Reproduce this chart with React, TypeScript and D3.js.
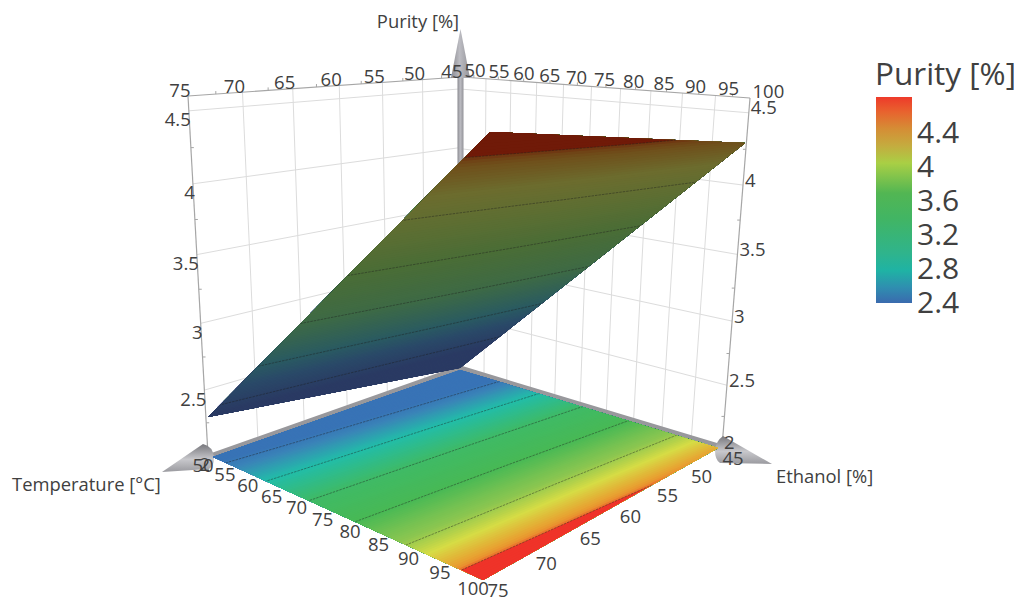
import React from "react";
import * as d3 from "d3";

const width = 1014;
const height = 597;

// axis ticks
const temperatureTicks = [50, 55, 60, 65, 70, 75, 80, 85, 90, 95, 100];
const ethanolTicks = [45, 50, 55, 60, 65, 70, 75];
const purityTicks = [2, 2.5, 3, 3.5, 4, 4.5];
const legendTicks = [2.4, 2.8, 3.2, 3.6, 4, 4.4];
const contourLevels = [2.4, 2.8, 3.2, 3.6, 4, 4.4];

// purity, one row per ethanol level, one value per temperature tick
const surfaceEthanol = [45, 60, 75];
const purityEthanol45 = [2.0, 2.23, 2.46, 2.7, 2.93, 3.16, 3.39, 3.62, 3.86, 4.09, 4.32];
const purityEthanol60 = [2.13, 2.36, 2.59, 2.83, 3.06, 3.29, 3.52, 3.75, 3.98, 4.21, 4.44];
const purityEthanol75 = [2.27, 2.49, 2.72, 2.95, 3.18, 3.41, 3.64, 3.87, 4.09, 4.32, 4.55];

// colour map of the floor
const mapValues = [2.35, 2.5, 2.8, 3.2, 3.6, 3.95, 4.15, 4.34, 4.385, 4.41, 4.9];
const mapColors = ["#3873b6", "#3a85b8", "#22bda8", "#3fba66", "#48b955", "#8cc650", "#d6dc45", "#e8a131", "#ea8a2e", "#ef3329", "#ef3329"];

// colour map of the shaded surface
const shadeValues = [2.3, 2.6, 2.8, 3.2, 3.6, 3.95, 4.15, 4.34, 4.385, 4.41, 4.9];
const shadeColors = ["#2a3a63", "#2a4a68", "#2a5a62", "#3e6a45", "#4a6d36", "#5f6e32", "#6c6c2e", "#6f4f1b", "#6f3f14", "#701a08", "#701a08"];

// colour bar
const legendValues = [2.42, 2.6, 2.8, 3.0, 3.4, 3.7, 4.05, 4.25, 4.45, 4.65, 4.82];
const legendColors = ["#3a6aae", "#2f8eb0", "#1fb3a4", "#2fb48c", "#41b564", "#52b653", "#a9cf45", "#c4ac3f", "#d58d35", "#e8622e", "#ee3a2a"];

type Pt = [number, number];

function plane(corners: Pt[], uDomain: number[], vDomain: number[]) {
  const [p0, p1, p2, p3] = corners;
  const dx1 = p1[0] - p2[0], dx2 = p3[0] - p2[0], sx = p0[0] - p1[0] + p2[0] - p3[0];
  const dy1 = p1[1] - p2[1], dy2 = p3[1] - p2[1], sy = p0[1] - p1[1] + p2[1] - p3[1];
  const den = dx1 * dy2 - dx2 * dy1;
  const g = (sx * dy2 - dx2 * sy) / den;
  const h = (dx1 * sy - sx * dy1) / den;
  const a = p1[0] - p0[0] + g * p1[0], b = p3[0] - p0[0] + h * p3[0];
  const d = p1[1] - p0[1] + g * p1[1], e = p3[1] - p0[1] + h * p3[1];
  const us = d3.scaleLinear().domain(uDomain).range([0, 1]);
  const vs = d3.scaleLinear().domain(vDomain).range([0, 1]);
  return (u: number, v: number): Pt => {
    const s = us(u), t = vs(v);
    const w = g * s + h * t + 1;
    return [(a * s + b * t + p0[0]) / w, (d * s + e * t + p0[1]) / w];
  };
}

const tDomain = [50, 100];
const eDomain = [45, 75];
const zDomain = [2, 4.6];

const leftWall = plane([[460, 369], [208, 455], [188, 96], [460, 77]], eDomain, zDomain);
const rightWall = plane([[462, 369], [722, 447], [750, 98], [462, 77]], tDomain, zDomain);
const floorPlane = plane([[460, 370], [718, 448], [483, 580], [213, 457]], tDomain, eDomain);
const surfacePlane = plane([[460, 368], [745, 143], [490, 132], [208, 417]], tDomain, eDomain);

const mapColor = d3.scaleLinear<string>().domain(mapValues).range(mapColors).clamp(true);
const shadeColor = d3.scaleLinear<string>().domain(shadeValues).range(shadeColors).clamp(true);

// resample the read values on a fine grid for d3.contours
const nx = 101;
const ny = 61;
const gridT = d3.scaleLinear().domain([0.5, nx - 0.5]).range(tDomain);
const gridE = d3.scaleLinear().domain([0.5, ny - 0.5]).range(eDomain);
const rowScales = [purityEthanol45, purityEthanol60, purityEthanol75].map((r) =>
  d3.scaleLinear().domain(temperatureTicks).range(r)
);
const grid: number[] = [];
for (let j = 0; j < ny; j++) {
  for (let i = 0; i < nx; i++) {
    const T = gridT(i + 0.5);
    const E = gridE(j + 0.5);
    grid.push(d3.scaleLinear().domain(surfaceEthanol).range(rowScales.map((s) => s(T)))(E));
  }
}
const contourGen = d3.contours().size([nx, ny]).smooth(true);
const bandStep = 0.02;
const bandLevels = d3.range(1.9, 4.7, bandStep);
const bands = bandLevels.map((t) => contourGen.contour(grid, t));
const lines = contourLevels.map((t) => contourGen.contour(grid, t));

const planePath = (proj: (u: number, v: number) => Pt) =>
  d3.geoPath(
    d3.geoTransform({
      point(x: number, y: number) {
        const p = proj(gridT(x), gridE(y));
        this.stream.point(p[0], p[1]);
      },
    })
  );

const quad = (proj: (u: number, v: number) => Pt) =>
  [proj(tDomain[0], eDomain[0]), proj(tDomain[1], eDomain[0]), proj(tDomain[1], eDomain[1]), proj(tDomain[0], eDomain[1])]
    .map((p) => p.join(","))
    .join(" ");

const mid = (ticks: number[]) => ticks.slice(1).map((t, i) => (t + ticks[i]) / 2);

const legendY = d3.scaleLinear().domain([2.4, 4.4]).range([301.5, 131.5]);
const textColor = "#404040";
const font = "'Open Sans', sans-serif";

function Line({ a, b, stroke, w = 1 }: { a: Pt; b: Pt; stroke: string; w?: number }) {
  return <line x1={a[0]} y1={a[1]} x2={b[0]} y2={b[1]} stroke={stroke} strokeWidth={w} />;
}

function Label({ at, dx = 0, dy = 0, anchor = "middle", size = 18.5, children }: any) {
  return (
    <text x={at[0] + dx} y={at[1] + dy} textAnchor={anchor} dominantBaseline="central" fontSize={size} fill={textColor}>
      {children}
    </text>
  );
}

function Surface({ proj, id, color }: { proj: (u: number, v: number) => Pt; id: string; color: (v: number) => string }) {
  const path = planePath(proj);
  return (
    <g>
      <clipPath id={id}>
        <polygon points={quad(proj)} />
      </clipPath>
      <g clipPath={`url(#${id})`}>
        {bands.map((b, i) => (
          <path key={i} d={path(b) || ""} fill={color(bandLevels[i] + bandStep / 2)} />
        ))}
        {lines.map((l, i) => (
          <path key={i} d={path(l) || ""} fill="none" stroke="#1c1c1c" strokeOpacity={0.6} strokeWidth={0.7} strokeDasharray="2.5 1" />
        ))}
      </g>
    </g>
  );
}

export default function App() {
  const zTop = zDomain[1];
  const gridColor = "#dcdcdc";
  const edgeColor = "#a6a6a6";
  return (
    <svg width={width} height={height} style={{ position: "absolute", left: 0, top: 0 }} fontFamily={font}>
      <defs>
        <linearGradient id="legendGrad" x1="0" y1="1" x2="0" y2="0">
          {legendValues.map((v, i) => (
            <stop
              key={v}
              offset={(v - legendValues[0]) / (legendValues[legendValues.length - 1] - legendValues[0])}
              stopColor={legendColors[i]}
            />
          ))}
        </linearGradient>
        <linearGradient id="coneV" x1="0" y1="0" x2="1" y2="0">
          <stop offset="0" stopColor="#8a8a90" />
          <stop offset="0.45" stopColor="#bcbcc2" />
          <stop offset="1" stopColor="#94949a" />
        </linearGradient>
        <linearGradient id="coneH" x1="0" y1="0" x2="0" y2="1">
          <stop offset="0" stopColor="#77777c" />
          <stop offset="0.55" stopColor="#c8c8cc" />
          <stop offset="1" stopColor="#9a9a9f" />
        </linearGradient>
      </defs>

      {/* walls */}
      {ethanolTicks.slice(0, -1).map((e) => (
        <Line key={e} a={leftWall(e, zDomain[0])} b={leftWall(e, zTop)} stroke={gridColor} />
      ))}
      {purityTicks.slice(1).map((z) => (
        <Line key={z} a={leftWall(eDomain[0], z)} b={leftWall(eDomain[1], z)} stroke={gridColor} />
      ))}
      {temperatureTicks.slice(0, -1).map((t) => (
        <Line key={t} a={rightWall(t, zDomain[0])} b={rightWall(t, zTop)} stroke={gridColor} />
      ))}
      {purityTicks.slice(1).map((z) => (
        <Line key={z} a={rightWall(tDomain[0], z)} b={rightWall(tDomain[1], z)} stroke={gridColor} />
      ))}

      {/* wall edges with the small half-step ticks */}
      <Line a={leftWall(eDomain[0], zTop)} b={leftWall(eDomain[1], zTop)} stroke={edgeColor} w={1.2} />
      <Line a={rightWall(tDomain[0], zTop)} b={rightWall(tDomain[1], zTop)} stroke={edgeColor} w={1.2} />
      <Line a={leftWall(eDomain[1], zDomain[0])} b={leftWall(eDomain[1], zTop)} stroke={edgeColor} w={1.2} />
      <Line a={rightWall(tDomain[1], zDomain[0])} b={rightWall(tDomain[1], zTop)} stroke={edgeColor} w={1.2} />
      {mid(ethanolTicks).map((e) => {
        const p = leftWall(e, zTop);
        return <Line key={e} a={p} b={[p[0], p[1] - 3]} stroke={edgeColor} />;
      })}
      {mid(temperatureTicks).map((t) => {
        const p = rightWall(t, zTop);
        return <Line key={t} a={p} b={[p[0], p[1] - 3]} stroke={edgeColor} />;
      })}
      {mid(purityTicks).map((z) => {
        const a = leftWall(eDomain[1], z);
        const b = rightWall(tDomain[1], z);
        return (
          <g key={z}>
            <Line a={a} b={[a[0] + 3, a[1]]} stroke={edgeColor} />
            <Line a={b} b={[b[0] - 3, b[1]]} stroke={edgeColor} />
          </g>
        );
      })}

      {/* vertical arrow */}
      <rect x={457.5} y={74} width={6} height={100} fill="url(#coneV)" />
      <polygon points="460.5,29 451,78 470,78" fill="url(#coneV)" />

      {/* floor axes */}
      <path
        d={`M${floorPlane(50, 75)[0]},${floorPlane(50, 75)[1] - 2}L${floorPlane(50, 45)[0]},${floorPlane(50, 45)[1] - 2}L${floorPlane(100, 45)[0]},${floorPlane(100, 45)[1] - 2}`}
        fill="none"
        stroke="#98989c"
        strokeWidth={5}
      />
      <path d="M162,472 L203,444 Q213,446 214,458 Q214,466 209,469 Z" fill="url(#coneH)" />
      <path d="M772,464 L723,436 Q716,441 715,450 Q715,460 720,463 Z" fill="url(#coneH)" />

      <Surface proj={floorPlane} id="floorClip" color={mapColor} />
      <Surface proj={surfacePlane} id="surfaceClip" color={shadeColor} />

      {/* tick labels */}
      <g>
        {ethanolTicks.map((e) => (
          <Label key={e} at={leftWall(e, zTop)} dx={2.5} dy={-7} anchor="end">
            {e}
          </Label>
        ))}
        {temperatureTicks.map((t) => (
          <Label key={t} at={rightWall(t, zTop)} dx={2.5} dy={-8} anchor="start">
            {t}
          </Label>
        ))}
        {purityTicks.map((z) => (
          <Label key={z} at={leftWall(eDomain[1], z)} dx={2} dy={8} anchor="end">
            {z}
          </Label>
        ))}
        {purityTicks.map((z) => (
          <Label key={z} at={rightWall(tDomain[1], z)} dx={2} dy={-6} anchor="start">
            {z}
          </Label>
        ))}
        {temperatureTicks.map((t) => (
          <Label key={t} at={floorPlane(t, eDomain[1])} dx={-10} dy={7}>
            {t}
          </Label>
        ))}
        {ethanolTicks.map((e) => (
          <Label key={e} at={floorPlane(tDomain[1], e)} dx={15} dy={9.5}>
            {e}
          </Label>
        ))}
      </g>

      {/* axis titles */}
      <Label at={[418, 20]} size={18.4}>Purity [%]</Label>
      <Label at={[12, 483]} size={18.4} anchor="start">Temperature [°C]</Label>
      <Label at={[776, 475]} size={18.4} anchor="start">Ethanol [%]</Label>

      {/* colour bar */}
      <Label at={[875, 72]} size={31.5} anchor="start">Purity [%]</Label>
      <rect x={876} y={97} width={36} height={206} fill="url(#legendGrad)" />
      {legendTicks.map((v) => (
        <Label key={v} at={[917, legendY(v)]} size={30} anchor="start">
          {v}
        </Label>
      ))}
    </svg>
  );
}
